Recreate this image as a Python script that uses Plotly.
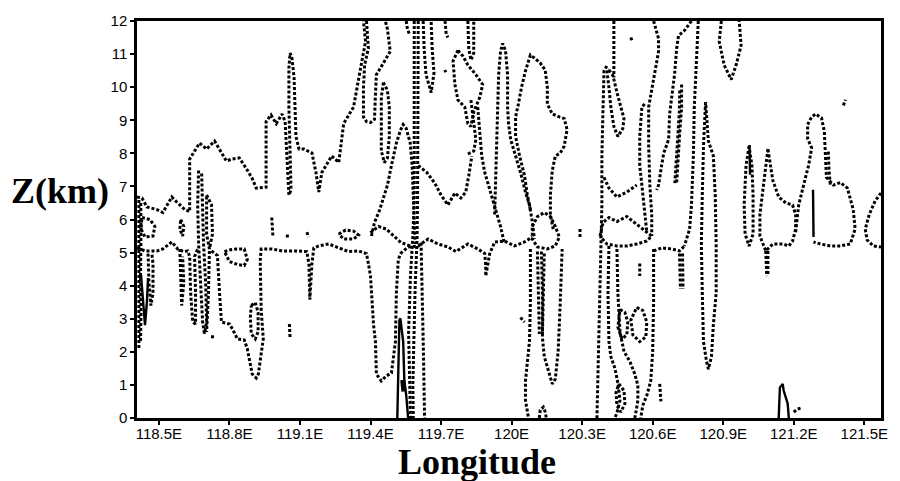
import plotly.graph_objects as go

# ---- axes -----------------------------------------------------------------
lon_range = [118.407, 121.571]
z_range = [0, 12]
lon_ticks = [118.5, 118.8, 119.1, 119.4, 119.7, 120.0, 120.3, 120.6, 120.9, 121.2, 121.5]
lon_labels = ["118.5E", "118.8E", "119.1E", "119.4E", "119.7E", "120E",
              "120.3E", "120.6E", "120.9E", "121.2E", "121.5E"]
z_ticks = list(range(0, 13))

# ---- dashed contour lines, (longitude, height km) --------------------------
west_ridge = [(118.407, 6.68), (118.428, 6.65), (118.449, 6.38), (118.492, 6.30), (118.517, 6.21),
              (118.555, 6.68), (118.576, 6.53), (118.610, 6.30), (118.631, 6.24), (118.631, 7.83),
              (118.673, 8.31), (118.703, 8.13), (118.737, 8.37), (118.766, 8.01), (118.787, 7.77),
              (118.813, 7.83), (118.842, 7.86), (118.872, 7.54), (118.897, 7.24), (118.914, 6.95),
              (118.956, 6.98), (118.956, 8.96), (118.977, 9.16), (118.999, 8.90), (119.024, 9.19),
              (119.037, 8.96), (119.045, 7.63), (119.053, 6.74), (119.062, 6.89), (119.058, 7.92),
              (119.053, 9.40), (119.053, 10.58), (119.058, 11.03), (119.066, 10.88), (119.075, 10.29),
              (119.079, 9.40), (119.083, 8.51), (119.096, 8.13), (119.117, 8.13), (119.151, 8.01),
              (119.168, 7.42), (119.180, 6.83), (119.193, 7.42), (119.235, 7.92), (119.265, 7.72),
              (119.286, 8.90), (119.328, 9.40), (119.358, 10.58), (119.379, 11.38), (119.370, 12.0)]
upper_u = [(119.383, 12.0), (119.391, 11.17), (119.375, 10.67), (119.370, 9.99), (119.370, 9.10),
           (119.383, 8.96), (119.400, 8.93), (119.417, 9.03), (119.421, 9.78), (119.425, 10.38),
           (119.455, 10.73), (119.484, 11.08), (119.472, 11.76), (119.463, 12.0)]
loop_1945 = [(119.455, 10.14), (119.446, 9.70), (119.446, 8.81), (119.446, 8.07), (119.459, 7.72),
             (119.472, 7.86), (119.480, 8.51), (119.480, 9.40), (119.472, 9.90), (119.455, 10.14)]
spire_1953 = [(119.404, 5.50), (119.417, 5.91), (119.438, 6.27), (119.472, 7.04), (119.489, 7.63),
              (119.510, 8.31), (119.527, 8.69), (119.539, 8.87), (119.552, 8.75), (119.569, 8.31),
              (119.577, 7.63), (119.582, 6.74), (119.586, 6.00), (119.590, 5.26)]
col_1958a = [(119.586, 12.0), (119.586, 10.0), (119.588, 8.0), (119.586, 6.5), (119.580, 5.5),
             (119.570, 4.3), (119.562, 2.6), (119.565, 1.1), (119.570, 0.0)]
col_1958b = [(119.603, 12.0), (119.603, 10.0), (119.600, 8.0), (119.600, 6.5), (119.598, 5.4),
             (119.590, 4.0), (119.585, 2.5), (119.580, 1.0), (119.582, 0.0)]
col_1962 = [(119.615, 5.30), (119.620, 4.0), (119.625, 2.0), (119.630, 0.0)]
u_1963 = [(119.624, 12.0), (119.628, 11.17), (119.636, 10.38), (119.658, 9.84), (119.670, 10.43),
          (119.662, 11.17), (119.658, 12.0)]
loop_1982 = [(119.772, 11.11), (119.751, 10.79), (119.759, 10.08), (119.772, 9.61), (119.801, 9.40),
             (119.814, 8.90), (119.827, 8.81), (119.839, 9.25), (119.865, 9.70), (119.877, 10.08),
             (119.848, 10.38), (119.814, 10.67), (119.793, 10.94), (119.772, 11.11)]
notch_1982 = [(119.814, 12.0), (119.818, 11.17), (119.827, 10.82), (119.839, 11.03), (119.839, 12.0)]
top_dash_a = [(119.552, 12.0), (119.556, 11.8), (119.565, 11.6)]
top_dash_b = [(119.717, 12.0), (119.722, 11.6), (119.729, 11.5)]
dot_1972 = [(119.716, 10.52), (119.720, 10.45)]
hook_1983 = [(119.827, 9.61), (119.839, 8.96), (119.848, 8.42), (119.839, 8.07), (119.814, 7.98)]
stem_1988 = [(119.856, 9.40), (119.865, 8.60), (119.873, 7.92), (119.886, 7.42), (119.911, 6.83),
             (119.932, 6.30), (119.953, 5.79), (119.970, 5.26)]
ridge_2000 = [(119.928, 6.15), (119.932, 7.42), (119.936, 8.42), (119.941, 9.40), (119.945, 10.38),
              (119.953, 11.08), (119.962, 11.32), (119.974, 11.11), (119.983, 10.38), (119.983, 9.40),
              (119.987, 8.90), (119.996, 8.42), (120.017, 7.92), (120.038, 7.42), (120.059, 6.83),
              (120.076, 6.44), (120.088, 5.94), (120.097, 5.41)]
plume_2003 = [(120.080, 6.30), (120.067, 6.74), (120.055, 7.33), (120.034, 7.92), (120.017, 8.51),
              (120.017, 9.10), (120.029, 9.49), (120.042, 9.99), (120.059, 10.49), (120.080, 10.97),
              (120.097, 10.88), (120.122, 10.73), (120.143, 10.52), (120.152, 9.99), (120.152, 9.49),
              (120.173, 9.19), (120.203, 9.10), (120.224, 9.05), (120.236, 8.72), (120.224, 8.22),
              (120.207, 8.01), (120.186, 7.92), (120.173, 7.48), (120.165, 6.74), (120.165, 6.15),
              (120.177, 5.71)]
loop_2015 = [(120.088, 5.79), (120.110, 6.09), (120.139, 6.21), (120.165, 6.09), (120.186, 5.79),
             (120.203, 5.47), (120.186, 5.20), (120.152, 5.11), (120.110, 5.17), (120.088, 5.41),
             (120.088, 5.79)]
band_mid = [(119.527, 4.97), (119.560, 5.17), (119.603, 5.20), (119.645, 5.41), (119.687, 5.26),
            (119.729, 5.17), (119.763, 5.03), (119.814, 5.26), (119.856, 5.11), (119.886, 4.97),
            (119.890, 4.61), (119.890, 4.29), (119.898, 4.61), (119.907, 4.97), (119.928, 5.32),
            (119.970, 5.35), (120.012, 5.20), (120.055, 5.32), (120.088, 5.47)]
band_mid_upper = [(119.400, 5.60), (119.434, 5.79), (119.467, 5.71), (119.497, 5.50), (119.530, 5.30),
                  (119.570, 5.20)]
w_line_1975 = [(119.603, 7.63), (119.640, 7.42), (119.674, 7.09), (119.700, 6.74), (119.729, 6.44),
               (119.759, 6.80), (119.784, 6.65), (119.805, 6.83), (119.818, 7.33), (119.831, 7.92)]
blob_1930 = [(119.265, 5.56), (119.294, 5.68), (119.328, 5.65), (119.349, 5.53), (119.328, 5.41),
             (119.286, 5.41), (119.265, 5.56)]
dash_1898 = [(118.980, 6.06), (118.985, 5.50)]
dash_1905 = [(119.040, 5.50), (119.060, 5.50)]
dash_1913 = [(119.130, 5.62), (119.135, 5.47)]
dash_1906 = [(119.055, 2.84), (119.058, 2.39)]
dash_1873 = [(118.728, 2.50), (118.728, 2.35)]
band_west = [(118.407, 5.14), (118.441, 5.05), (118.492, 5.05), (118.517, 5.11), (118.555, 5.32),
             (118.580, 5.11), (118.606, 5.03), (118.623, 5.05), (118.631, 4.88), (118.635, 3.78),
             (118.644, 2.90), (118.656, 2.84), (118.656, 3.78), (118.652, 4.88), (118.665, 5.11)]
band_centre = [(118.724, 5.05), (118.749, 4.91), (118.758, 3.78), (118.766, 2.90), (118.800, 2.84),
               (118.813, 2.69), (118.834, 2.39), (118.863, 2.36), (118.876, 2.10), (118.897, 1.33),
               (118.914, 1.21), (118.923, 1.33), (118.944, 2.39), (118.935, 3.28), (118.931, 4.76),
               (118.935, 5.11), (118.982, 5.11), (119.024, 5.05), (119.083, 5.05), (119.129, 5.03),
               (119.138, 4.67), (119.142, 3.58), (119.151, 4.67), (119.159, 5.14), (119.180, 5.20),
               (119.222, 5.26), (119.277, 5.11), (119.307, 5.03), (119.349, 5.05), (119.383, 4.97),
               (119.391, 4.67), (119.400, 4.29), (119.413, 2.81), (119.421, 2.31), (119.425, 1.33),
               (119.446, 1.12), (119.467, 1.27), (119.489, 1.36), (119.506, 2.31), (119.510, 3.78),
               (119.518, 4.76), (119.527, 4.97)]
loop_1891 = [(118.893, 3.40), (118.910, 3.49), (118.922, 3.19), (118.922, 2.60), (118.910, 2.39),
             (118.893, 2.54), (118.889, 3.04), (118.893, 3.40)]
loop_1883 = [(118.779, 5.03), (118.800, 5.08), (118.830, 5.11), (118.863, 5.11), (118.876, 4.79),
             (118.863, 4.61), (118.834, 4.64), (118.800, 4.73), (118.779, 5.03)]
edge_west_a = [(118.415, 6.59), (118.415, 5.56), (118.413, 4.37), (118.415, 3.19), (118.415, 2.10)]
edge_west_b = [(118.423, 6.50), (118.424, 5.56), (118.422, 4.37), (118.424, 3.19), (118.422, 2.30)]
loop_west = [(118.428, 6.06), (118.462, 6.00), (118.483, 5.79), (118.475, 5.50), (118.441, 5.47),
             (118.424, 5.71), (118.428, 6.06)]
finger_1847 = [(118.454, 4.97), (118.458, 4.08), (118.466, 3.40), (118.475, 3.78), (118.475, 4.67),
               (118.470, 4.97)]
finger_1860 = [(118.589, 5.11), (118.593, 4.37), (118.597, 3.40), (118.606, 4.08), (118.601, 4.88)]
blip_1860 = [(118.593, 6.00), (118.606, 5.79), (118.601, 5.50), (118.589, 5.71), (118.593, 6.00)]
cluster_1867a = [(118.669, 7.48), (118.665, 6.44), (118.669, 5.26), (118.677, 4.08), (118.686, 2.90),
                 (118.694, 2.54)]
cluster_1867b = [(118.682, 7.39), (118.686, 6.44), (118.690, 5.26), (118.699, 4.08), (118.703, 2.90),
                 (118.694, 2.54)]
cluster_1871 = [(118.703, 6.74), (118.724, 6.44), (118.728, 5.56), (118.715, 5.11), (118.703, 5.56),
                (118.703, 6.74)]
cluster_1871b = [(118.715, 5.05), (118.711, 3.78), (118.703, 2.60)]
u_2010 = [(120.080, 5.11), (120.080, 3.49), (120.076, 2.31), (120.059, 1.12), (120.059, 0.53),
          (120.072, 0.0)]
dense_2011a = [(120.110, 5.03), (120.114, 3.78), (120.118, 2.54)]
dense_2011b = [(120.127, 5.03), (120.131, 3.78), (120.131, 2.54)]
u_2014 = [(120.139, 4.97), (120.135, 3.49), (120.131, 2.45), (120.139, 1.86), (120.156, 1.48),
          (120.173, 1.03), (120.186, 1.18), (120.198, 2.01), (120.207, 3.49), (120.211, 4.67),
          (120.215, 5.11)]
arch_2013 = [(120.118, 0.0), (120.122, 0.24), (120.135, 0.33), (120.143, 0.18), (120.148, 0.0)]
dash_2004 = [(120.038, 3.04), (120.055, 2.90)]
dash_2029 = [(120.291, 5.71), (120.291, 5.41)]
col_2038 = [(120.405, 10.64), (120.393, 10.49), (120.389, 9.40), (120.384, 7.92), (120.384, 6.44),
            (120.380, 5.26), (120.376, 4.08), (120.372, 2.60), (120.368, 1.12), (120.363, 0.0)]
stub_2043 = [(120.435, 12.0), (120.435, 11.17), (120.435, 10.29)]
loop_2044 = [(120.414, 10.52), (120.431, 10.35), (120.448, 9.84), (120.465, 9.40), (120.478, 9.05),
             (120.473, 8.75), (120.452, 8.51), (120.435, 8.81), (120.422, 9.40), (120.414, 9.99),
             (120.405, 10.52), (120.414, 10.52)]
dash_2051 = [(120.507, 11.50), (120.512, 11.40)]
pair_2059a = [(120.604, 12.0), (120.625, 11.47), (120.625, 11.08), (120.608, 10.38), (120.596, 9.84),
              (120.583, 9.40), (120.583, 8.22), (120.588, 7.04), (120.596, 6.15), (120.596, 5.50)]
pair_2059b = [(120.566, 9.49), (120.554, 9.40), (120.545, 8.51), (120.545, 7.63), (120.554, 7.04),
              (120.566, 6.15), (120.575, 5.62)]
lens_2048 = [(120.376, 5.50), (120.389, 5.91), (120.414, 6.06), (120.448, 5.94), (120.490, 6.09),
             (120.532, 5.85), (120.575, 5.62), (120.596, 5.50), (120.575, 5.35), (120.532, 5.26),
             (120.490, 5.20), (120.448, 5.20), (120.405, 5.26), (120.376, 5.50)]
link_2050 = [(120.393, 7.27), (120.414, 6.95), (120.448, 6.68), (120.490, 6.83), (120.532, 7.04)]
col_2042 = [(120.414, 5.20), (120.410, 3.78), (120.414, 2.31), (120.422, 1.86), (120.439, 1.51),
            (120.452, 1.06), (120.461, 0.53), (120.448, 0.15), (120.439, 0.0)]
col_2045 = [(120.448, 5.11), (120.452, 3.78), (120.461, 2.60), (120.478, 2.01), (120.503, 1.71),
            (120.524, 1.33), (120.537, 0.98), (120.537, 0.53), (120.528, 0.15), (120.524, 0.0)]
loop_2047 = [(120.461, 3.28), (120.482, 3.19), (120.494, 2.90), (120.490, 2.51), (120.469, 2.39),
             (120.452, 2.75), (120.461, 3.28)]
ellipse_2055 = [(120.532, 3.34), (120.558, 3.25), (120.575, 2.90), (120.571, 2.45), (120.545, 2.31),
                (120.516, 2.51), (120.507, 2.96), (120.532, 3.34)]
dash_2054 = [(120.545, 4.67), (120.545, 4.29)]
loop_2046 = [(120.456, 1.03), (120.478, 0.83), (120.482, 0.44), (120.465, 0.18), (120.448, 0.38),
             (120.444, 0.77), (120.456, 1.03)]
col_2060 = [(120.604, 5.11), (120.604, 3.49), (120.600, 2.01), (120.592, 1.12), (120.575, 0.68),
            (120.558, 0.38), (120.549, 0.0)]
dash_2063 = [(120.630, 1.03), (120.635, 0.50)]
dense_2072a = [(120.714, 4.97), (120.716, 4.50), (120.718, 3.90)]
dense_2072b = [(120.727, 4.97), (120.729, 4.40), (120.729, 3.90)]
slope_2070 = [(120.765, 12.0), (120.735, 11.71), (120.710, 11.56), (120.702, 11.17), (120.693, 10.38),
              (120.681, 9.70), (120.672, 9.19), (120.668, 8.42), (120.647, 8.01), (120.638, 7.63),
              (120.625, 7.04), (120.617, 6.89)]
pair_2071a = [(120.723, 10.08), (120.723, 9.40), (120.714, 8.51), (120.706, 7.63), (120.702, 7.12)]
pair_2071b = [(120.715, 9.90), (120.713, 9.20), (120.706, 8.40), (120.698, 7.60), (120.694, 7.10)]
col_2078 = [(120.794, 12.0), (120.786, 10.88), (120.777, 9.40), (120.773, 7.92), (120.765, 6.44),
            (120.757, 5.71), (120.735, 5.20)]
band_2065 = [(120.604, 5.05), (120.638, 5.14), (120.681, 5.11), (120.714, 5.05), (120.735, 5.20)]
u_2085 = [(120.825, 9.55), (120.816, 8.22), (120.811, 6.74), (120.807, 5.26), (120.811, 3.78),
          (120.816, 2.31), (120.829, 1.71), (120.837, 1.48), (120.850, 1.86), (120.858, 2.81),
          (120.870, 3.78), (120.870, 5.26), (120.866, 6.74), (120.858, 7.92), (120.837, 8.37),
          (120.829, 9.10), (120.825, 9.55)]
v_2093 = [(120.892, 12.0), (120.883, 11.38), (120.904, 10.67), (120.934, 10.23), (120.955, 10.67),
          (120.976, 11.26), (120.968, 12.0)]
loop_2101 = [(121.010, 8.22), (120.997, 7.63), (120.989, 6.44), (120.993, 5.56), (121.010, 5.20),
             (121.027, 5.56), (121.027, 6.74), (121.022, 7.63), (121.010, 8.22)]
loop_2110 = [(121.090, 8.13), (121.081, 7.63), (121.069, 6.83), (121.056, 6.15), (121.056, 5.50),
             (121.081, 5.05), (121.111, 5.26), (121.153, 5.26), (121.179, 5.20), (121.195, 5.35),
             (121.208, 5.71), (121.208, 6.15), (121.195, 6.44), (121.166, 6.50), (121.136, 6.68),
             (121.111, 7.18), (121.098, 7.77), (121.090, 8.13)]
dense_2108a = [(121.081, 5.05), (121.083, 4.60), (121.085, 4.29)]
dense_2108b = [(121.090, 5.05), (121.091, 4.60), (121.090, 4.35)]
loop_2130 = [(121.208, 5.62), (121.221, 6.44), (121.250, 7.27), (121.263, 7.63), (121.276, 8.16),
             (121.259, 8.45), (121.259, 8.87), (121.276, 9.10), (121.293, 9.19), (121.318, 9.07),
             (121.330, 8.66), (121.335, 7.92), (121.339, 7.27), (121.369, 7.04), (121.398, 7.12),
             (121.428, 6.95), (121.453, 6.30), (121.461, 5.71), (121.440, 5.26), (121.398, 5.20),
             (121.356, 5.20), (121.314, 5.26), (121.284, 5.32)]
dense_2135 = [(121.347, 8.05), (121.350, 7.50), (121.356, 7.00)]
dash_2141 = [(121.411, 9.45), (121.420, 9.62)]
edge_east = [(121.571, 6.80), (121.546, 6.56), (121.521, 6.15), (121.504, 5.71), (121.512, 5.38),
             (121.538, 5.20), (121.571, 5.17)]
dots_2121 = [(121.200, 0.18), (121.215, 0.27), (121.229, 0.30)]

# ---- solid contour lines ---------------------------------------------------
solid_1843 = [(118.424, 4.32), (118.432, 3.49), (118.441, 2.81), (118.449, 3.49), (118.454, 4.23)]
solid_1952 = [(119.514, 0.0), (119.516, 0.83), (119.518, 2.01), (119.523, 2.96), (119.527, 3.01),
              (119.539, 2.31), (119.544, 1.12), (119.552, 0.68), (119.560, 0.0)]
solid_1954 = [(119.537, 1.15), (119.542, 0.80)]
solid_2101 = [(121.012, 8.25), (121.014, 7.35)]
solid_2128 = [(121.282, 6.90), (121.284, 6.20), (121.284, 5.47)]
solid_2115 = [(121.136, 0.0), (121.141, 0.92), (121.153, 1.03), (121.157, 0.83), (121.174, 0.44),
              (121.179, 0.0)]

dotted_lines = [
    west_ridge, upper_u, loop_1945, spire_1953, col_1958a, col_1958b, col_1962, u_1963,
    loop_1982, notch_1982, top_dash_a, top_dash_b, dot_1972, hook_1983, stem_1988, ridge_2000,
    plume_2003, loop_2015, band_mid, band_mid_upper, w_line_1975, blob_1930, dash_1898, dash_1905,
    dash_1913, dash_1906, dash_1873, band_west, band_centre, loop_1891, loop_1883, edge_west_a,
    edge_west_b, loop_west, finger_1847, finger_1860, blip_1860, cluster_1867a, cluster_1867b,
    cluster_1871, cluster_1871b, u_2010, dense_2011a, dense_2011b, u_2014, arch_2013, dash_2004,
    dash_2029, col_2038, stub_2043, loop_2044, dash_2051, pair_2059a, pair_2059b, lens_2048,
    link_2050, col_2042, col_2045, loop_2047, ellipse_2055, dash_2054, loop_2046, col_2060,
    dash_2063, dense_2072a, dense_2072b, slope_2070, pair_2071a, pair_2071b, col_2078, band_2065,
    u_2085, v_2093, loop_2101, loop_2110, dense_2108a, dense_2108b, loop_2130, dense_2135,
    dash_2141, edge_east, dots_2121,
]
solid_lines = [solid_1843, solid_1952, solid_2101, solid_2128, solid_2115]

fig = go.Figure()
for seg in dotted_lines:
    fig.add_trace(go.Scatter(
        x=[p[0] for p in seg], y=[p[1] for p in seg], mode="lines",
        line=dict(color="black", width=3, dash="3px,2px"),
        hoverinfo="skip", showlegend=False))
for seg in solid_lines:
    fig.add_trace(go.Scatter(
        x=[p[0] for p in seg], y=[p[1] for p in seg], mode="lines",
        line=dict(color="black", width=2.4),
        hoverinfo="skip", showlegend=False))
fig.add_trace(go.Scatter(
    x=[p[0] for p in solid_1954], y=[p[1] for p in solid_1954], mode="lines",
    line=dict(color="black", width=5), hoverinfo="skip", showlegend=False))

tick_font = dict(family="Liberation Sans, Arial, sans-serif", size=15, color="black")
title_font = dict(family="Liberation Serif, Times New Roman, serif", size=36, color="black")

fig.update_layout(
    width=900, height=481,
    margin=dict(l=137, r=14, t=12, b=63),
    paper_bgcolor="white", plot_bgcolor="white",
    xaxis=dict(range=lon_range, tickvals=lon_ticks, ticktext=lon_labels,
               showgrid=False, zeroline=False, showline=True, mirror=True,
               linecolor="black", linewidth=2.5, ticks="outside", ticklen=4,
               tickwidth=1.5, tickcolor="black", tickfont=tick_font,
               ticklabelstandoff=-4),
    yaxis=dict(range=z_range, tickvals=z_ticks, ticktext=[str(v) for v in z_ticks],
               showgrid=False, zeroline=False, showline=True, mirror=True,
               linecolor="black", linewidth=2.5, ticks="outside", ticklen=4,
               tickwidth=1.5, tickcolor="black", tickfont=tick_font),
    annotations=[
        dict(text="<b>Z(km)</b>", xref="paper", yref="paper", x=-0.104, y=0.572,
             xanchor="center", yanchor="middle", showarrow=False, font=title_font),
        dict(text="<b>Longitude</b>", xref="paper", yref="paper", x=0.4566, y=-0.112,
             xanchor="center", yanchor="middle", showarrow=False, font=title_font),
    ],
)

fig.write_html("out.html")
